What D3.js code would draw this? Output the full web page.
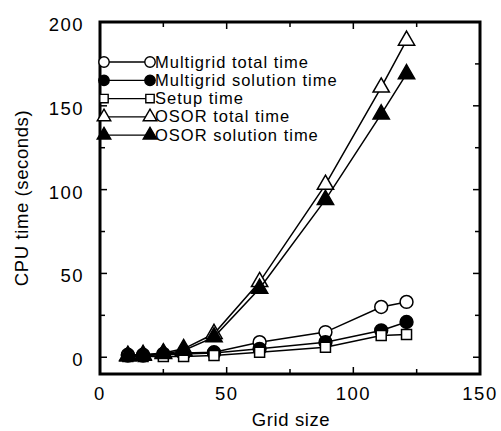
<!DOCTYPE html>
<html>
<head>
<meta charset="utf-8">
<script src="https://cdn.jsdelivr.net/npm/d3@7"></script>
<style>
  body { margin: 0; background: #fff; }
  svg { display: block; font-family: 'Liberation Sans', Arial, sans-serif; }
</style>
</head>
<body>
<div id="chart"></div>
<script>
// Grid sizes and CPU times (seconds)
const gridSizes = [11, 17, 25, 33, 45, 63, 89, 111, 121];
const mgTotal   = [1.5, 1.5, 2, 2.5, 3, 9, 15, 30, 33];
const mgSolve   = [1, 1, 1.5, 2, 2.5, 5, 9, 16, 21];
const setupTime = [0.5, 0.5, 0.5, 0.5, 1, 3, 6, 13, 13.5];
const osorTotal = [1, 1.5, 2.5, 5, 14, 45, 103, 161, 189];
const osorSolve = [0.5, 1, 2, 4, 12, 41, 94, 145, 169];

const seriesNames = ['Multigrid total time', 'Multigrid solution time', 'Setup time', 'OSOR total time', 'OSOR solution time'];
const seriesValues = [mgTotal, mgSolve, setupTime, osorTotal, osorSolve];
const seriesSymbols = ['circle', 'circle', 'square', 'triangle', 'triangle'];
const seriesFilled = [false, true, false, false, true];

const xTicks = [0, 50, 100, 150];
const yTicks = [0, 50, 100, 150, 200];

const W = 501, H = 431;
const margin = { left: 100, right: 21, top: 22, bottom: 57 };

const svg = d3.select('#chart').append('svg')
    .attr('width', W)
    .attr('height', H);

const x = d3.scaleLinear().domain([0, 150]).range([margin.left, W - margin.right]);
const y = d3.scaleLinear().domain([-10, 200]).range([H - margin.bottom, margin.top]);

// tick labels
svg.append('g').selectAll('text').data(xTicks).join('text')
    .attr('x', d => x(d)).attr('y', 400)
    .attr('text-anchor', 'middle')
    .attr('font-size', 18.5)
    .style('letter-spacing', '1.5px')
    .text(d => d);

svg.append('g').selectAll('text').data(yTicks).join('text')
    .attr('x', x(0) - 16).attr('y', d => y(d) + 9)
    .attr('text-anchor', 'end')
    .attr('font-size', 18.5)
    .style('letter-spacing', '1.5px')
    .text(d => d);

// axis titles
svg.append('text')
    .attr('x', 291).attr('y', 426)
    .attr('text-anchor', 'middle')
    .attr('font-size', 18.5)
    .style('letter-spacing', '0.6px')
    .text('Grid size');

svg.append('text')
    .attr('transform', `translate(28,${(y(-10) + y(200)) / 2}) rotate(-90)`)
    .attr('text-anchor', 'middle')
    .attr('font-size', 18.5)
    .style('letter-spacing', '0.6px')
    .text('CPU time (seconds)');

// marker shapes: plot markers and smaller legend markers
const plotSym = {
    circle: d3.symbol().type(d3.symbolCircle).size(130),
    square: d3.symbol().type(d3.symbolSquare).size(100),
    triangle: d3.symbol().type(d3.symbolTriangle).size(115)
};
const legSym = {
    circle: d3.symbol().type(d3.symbolCircle).size(85),
    square: d3.symbol().type(d3.symbolSquare).size(70),
    triangle: d3.symbol().type(d3.symbolTriangle).size(80)
};

// series lines and markers
const lineGen = d3.line().x((d, i) => x(gridSizes[i])).y(d => y(d));
seriesValues.forEach((vals, s) => {
    svg.append('path')
        .datum(vals)
        .attr('d', lineGen)
        .attr('fill', 'none')
        .attr('stroke', 'black')
        .attr('stroke-width', 1.5);
    svg.append('g').selectAll('path').data(vals).join('path')
        .attr('d', plotSym[seriesSymbols[s]])
        .attr('transform', (d, i) => `translate(${x(gridSizes[i])},${y(d)})`)
        .attr('fill', seriesFilled[s] ? 'black' : 'white')
        .attr('stroke', 'black')
        .attr('stroke-width', 1.5);
});

// inward ticks on all four sides (major every 50, minor every 25)
const fx0 = x(0), fx1 = x(150), fy0 = y(-10), fy1 = y(200);
const ticksG = svg.append('g').attr('stroke', 'black').attr('stroke-width', 1.5);
d3.range(0, 151, 25).forEach(v => {
    const len = v % 50 === 0 ? 7 : 5;
    ticksG.append('line').attr('x1', x(v)).attr('x2', x(v)).attr('y1', fy0).attr('y2', fy0 - len);
    ticksG.append('line').attr('x1', x(v)).attr('x2', x(v)).attr('y1', fy1).attr('y2', fy1 + len);
});
d3.range(0, 201, 25).forEach(v => {
    const len = v % 50 === 0 ? 7 : 5;
    ticksG.append('line').attr('y1', y(v)).attr('y2', y(v)).attr('x1', fx0).attr('x2', fx0 + len);
    ticksG.append('line').attr('y1', y(v)).attr('y2', y(v)).attr('x1', fx1).attr('x2', fx1 - len);
});

// frame
svg.append('rect')
    .attr('x', fx0).attr('y', fy1)
    .attr('width', fx1 - fx0).attr('height', fy0 - fy1)
    .attr('fill', 'none').attr('stroke', 'black').attr('stroke-width', 3);

// legend (drawn over the frame, as in the original)
seriesNames.forEach((name, s) => {
    const ly = 62 + s * 18.3;
    const g = svg.append('g');
    g.append('line').attr('x1', 104).attr('x2', 150).attr('y1', ly).attr('y2', ly)
        .attr('stroke', 'black').attr('stroke-width', 1.3);
    [104, 150].forEach(lx => {
        g.append('path')
            .attr('d', legSym[seriesSymbols[s]]())
            .attr('transform', `translate(${lx},${ly})`)
            .attr('fill', seriesFilled[s] ? 'black' : 'white')
            .attr('stroke', 'black').attr('stroke-width', 1.4);
    });
    g.append('text')
        .attr('x', 155).attr('y', ly + 5.5)
        .attr('font-size', 16.5)
        .style('letter-spacing', '1px')
        .text(name);
});
</script>
</body>
</html>
